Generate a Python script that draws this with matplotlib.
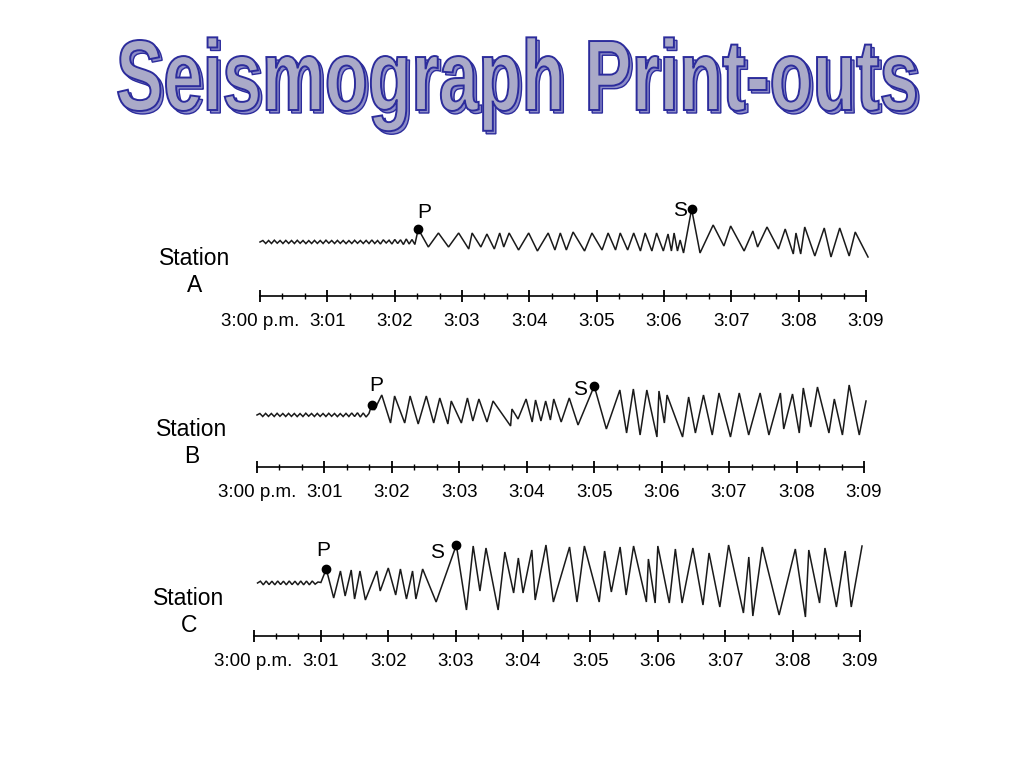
import numpy as np
import matplotlib.pyplot as plt
from matplotlib.textpath import TextPath
from matplotlib.patches import PathPatch
from matplotlib.font_manager import FontProperties, findfont
from matplotlib.transforms import Affine2D
from matplotlib.ticker import FixedLocator

plt.rcParams['font.family'] = ['Liberation Sans', 'DejaVu Sans']

# Daten: Zeit in Minuten nach 3:00, Ausschlag in Pixeln ueber der Ruhelinie
TITLE = "Seismograph Print-outs"
TICK_LABELS = ["3:00 p.m.", "3:01", "3:02", "3:03", "3:04",
               "3:05", "3:06", "3:07", "3:08", "3:09"]
STATIONS = ["A", "B", "C"]

# Station A
a_noise = [0, 1.5, -1.5, 1.5, -1.5, 1.8, -1.2, 1.5, -1.5, 1.6, -1.4, 1.5, -1.5, 1.7,
           -1.3, 1.5, -1.6, 1.4, -1.5, 1.6, -1.4, 1.5, -1.5, 1.8, -1.2, 1.5, -1.5, 1.6,
           -1.4, 1.5, -1.6, 1.4, -1.5, 1.7, -1.3, 1.5, -1.5, 1.6, -1.5, 2.0, -1.5, 1.5,
           -2.0, 2.2, -1.0, 1.8, -2.0, 2.5, -1.5, 2.2, -2.5, 3.0, -2.0, 2.5, -2.5]
a_noise_span = (0.0, 2.30)
a_time = [2.35, 2.50, 2.65, 2.80, 2.95, 3.10, 3.15, 3.28, 3.37, 3.48, 3.56, 3.62, 3.70,
          3.84, 3.99, 4.12, 4.28, 4.38, 4.46, 4.55, 4.65, 4.82, 4.93, 5.08, 5.17, 5.28,
          5.35, 5.46, 5.55, 5.65, 5.72, 5.82, 5.89, 5.99, 6.06, 6.11, 6.15, 6.20, 6.24,
          6.29, 6.41, 6.535, 6.73, 6.89, 6.99, 7.19, 7.32, 7.39, 7.53, 7.70, 7.80, 7.92,
          7.96, 8.03, 8.09, 8.24, 8.38, 8.48, 8.61, 8.75, 8.84, 9.03]
a_amp = [13, -5, 9, -5, 9, -7, 9, -5, 8, -7, 9, -5, 9,
         -8, 9, -9, 9, -8, 9, -8, 10, -9, 9, -8, 9, -8,
         9, -8, 9, -9, 9, -9, 9, -9, 8, -9, 9, -9, 2,
         -11, 33, -11, 17, -4, 16, -9, 11, -5, 15, -7, 13, -12,
         9, -12, 15, -14, 14, -15, 14, -14, 10, -15]
a_arrival_time = [2.35, 6.41]
a_arrival_amp = [13, 33]

# Station B
b_noise = [0, 1.5, -1.5, 1.6, -1.4, 1.5, -1.5, 1.7, -1.3, 1.5, -1.5, 1.6, -1.4, 1.5,
           -1.6, 1.4, -1.5, 1.8, -1.2, 1.5, -1.5, 1.6, -1.4, 1.5, -1.5, 1.7, -1.3, 1.5,
           -1.6, 1.4, -1.5, 1.6, -1.5, 2.0, -1.5, 2.2, -2.0, 2.0, -2.0, 1.5]
b_noise_span = (0.0, 1.66)
b_time = [1.70, 1.74, 1.85, 1.98, 2.04, 2.19, 2.27, 2.39, 2.51, 2.62, 2.71, 2.83, 2.88,
          3.03, 3.12, 3.20, 3.29, 3.41, 3.50, 3.76, 3.78, 3.87, 3.99, 4.08, 4.13, 4.21,
          4.28, 4.35, 4.40, 4.51, 4.63, 4.76, 5.00, 5.18, 5.38, 5.48, 5.58, 5.68, 5.78,
          5.93, 5.96, 6.04, 6.08, 6.31, 6.40, 6.50, 6.62, 6.75, 6.85, 7.02, 7.15, 7.29,
          7.46, 7.59, 7.76, 7.81, 7.94, 8.04, 8.10, 8.21, 8.31, 8.48, 8.56, 8.68, 8.78,
          8.93, 9.03]
b_amp = [10, 5, 20, -8, 19, -8, 19, -9, 19, -8, 17, -9, 14,
         -8, 17, -6, 16, -7, 14, -11, 6, -4, 16, -7, 15, -6,
         14, -5, 16, -7, 17, -10, 29, -14, 25, -18, 26, -20, 25,
         -22, 24, -8, 20, -22, 18, -18, 20, -20, 22, -22, 22, -20,
         22, -20, 22, -14, 21, -18, 27, -12, 28, -18, 16, -20, 30,
         -20, 14]
b_arrival_time = [1.70, 5.00]
b_arrival_amp = [10, 29]

# Station C
c_noise = [0, 1.8, -1.8, 2.0, -1.6, 1.8, -1.8, 2.0, -1.5, 1.8, -1.8, 2.0, -1.6, 1.8,
           -1.9, 2.0, -1.8, 1.9, -1.8, 2.0, -1.2, 1.0, 0.5]
c_noise_span = (0.06, 1.00)
c_time = [1.08, 1.19, 1.29, 1.36, 1.45, 1.50, 1.58, 1.66, 1.83, 1.88, 2.00, 2.11, 2.18,
          2.27, 2.36, 2.41, 2.51, 2.71, 3.01, 3.16, 3.26, 3.36, 3.45, 3.63, 3.73, 3.86,
          3.93, 4.00, 4.13, 4.18, 4.34, 4.45, 4.69, 4.80, 4.91, 5.13, 5.21, 5.31, 5.44,
          5.53, 5.64, 5.83, 5.86, 5.96, 6.00, 6.17, 6.26, 6.36, 6.52, 6.67, 6.76, 6.92,
          7.05, 7.27, 7.35, 7.41, 7.55, 7.80, 8.04, 8.19, 8.24, 8.40, 8.48, 8.65, 8.78,
          8.87, 9.03]
c_amp = [14, -15, 12, -13, 13, -16, 12, -17, 12, -8, 15, -12, 14,
         -16, 12, -16, 14, -19, 38, -27, 37, -8, 35, -27, 31, -10,
         25, -10, 33, -17, 38, -19, 36, -19, 37, -19, 32, -9, 36,
         -12, 37, -19, 24, -20, 37, -20, 34, -20, 35, -22, 30, -24,
         38, -30, 26, -33, 36, -32, 34, -34, 33, -20, 35, -24, 32,
         -24, 37]
c_arrival_time = [1.08, 3.01]
c_arrival_amp = [14, 38]

MINOR_TICKS = [m + k / 3 for m in range(9) for k in (1, 2)]

# Bildlage der Stationen in Pixeln: x(3:00), x(3:09), Ruhelinie, Zeitachse, Beschriftung
GEOM = {
    "A": dict(x0=260, x9=866, base=242, axis=296, label=(195, 272), p_off=(6, 17), s_off=(-12, -2)),
    "B": dict(x0=257, x9=864, base=415, axis=467, label=(192, 443), p_off=(5, 19), s_off=(-14, -4)),
    "C": dict(x0=253.5, x9=860, base=583, axis=636, label=(189, 612), p_off=(-3, 18), s_off=(-19, -7)),
}

W, H = 1024, 768
fig = plt.figure(figsize=(W / 100, H / 100), dpi=100, facecolor="white")

# Titel als WordArt-aehnlicher Schriftzug
bg = fig.add_axes([0, 0, 1, 1])
bg.set_xlim(0, W)
bg.set_ylim(H, 0)
bg.axis("off")

fp = None
for fam in ["Liberation Sans Narrow", "Liberation Sans", "DejaVu Sans"]:
    try:
        cand = FontProperties(family=fam, weight="bold")
        findfont(cand, fallback_to_default=False)
        fp = cand
        break
    except Exception:
        continue

tpath = TextPath((0, 0), TITLE, size=100, prop=fp)
ext = tpath.get_extents()
cap = TextPath((0, 0), "S", size=100, prop=fp).get_extents().ymax
sx = (916 - 118) / (ext.x1 - ext.x0)
sy = (110 - 40) / cap
tr = Affine2D().translate(-ext.x0, 0).scale(sx, -sy).translate(118, 110)
shadow = PathPatch(tr.transform_path(tpath), facecolor="#8c8cc8", edgecolor="#2c2c9c",
                   lw=1.0, transform=Affine2D().translate(3, 3) + bg.transData)
bg.add_patch(shadow)
main = PathPatch(tr.transform_path(tpath), facecolor="#aaaac8", edgecolor="#2c2c9c",
                 lw=1.4, transform=bg.transData)
bg.add_patch(main)


def draw_station(name, noise, noise_span, times, amps, arr_t, arr_a):
    g = GEOM[name]
    s = (g["x9"] - g["x0"]) / 9
    left, right = 140, 900
    top, bottom = g["base"] - 60, g["axis"] + 45
    ax = fig.add_axes([left / W, 1 - bottom / H, (right - left) / W, (bottom - top) / H])
    ax.set_xlim((left - g["x0"]) / s, (right - g["x0"]) / s)
    ax.set_ylim(g["base"] - bottom, g["base"] - top)
    ax.patch.set_alpha(0)

    nx = np.linspace(noise_span[0], noise_span[1], len(noise))
    x = np.concatenate([nx, times])
    y = np.concatenate([noise, amps])
    ax.plot(x, y, color="#1a1a1a", lw=1.1, solid_joinstyle="miter")
    ax.plot(arr_t, arr_a, "o", color="black", ms=6)
    for lab, t, a, off in zip(["P", "S"], arr_t, arr_a, [g["p_off"], g["s_off"]]):
        ax.annotate(lab, (t, a), xytext=off, textcoords="offset pixels",
                    ha="center", va="center", fontsize=15)

    # Zeitachse
    for sp in ["top", "left", "right"]:
        ax.spines[sp].set_visible(False)
    ax.spines["bottom"].set_position(("data", g["base"] - g["axis"]))
    ax.spines["bottom"].set_bounds(0, 9)
    ax.spines["bottom"].set_linewidth(1.2)
    ax.set_xticks(range(10))
    ax.set_xticklabels(TICK_LABELS, fontsize=13.5)
    ax.xaxis.set_minor_locator(FixedLocator(MINOR_TICKS))
    ax.tick_params(which="major", direction="inout", length=9, width=1.3, pad=7.5)
    ax.tick_params(which="minor", direction="inout", length=4.5, width=1.0)
    ax.set_yticks([])

    lx, ly = g["label"]
    fig.text(lx / W, 1 - ly / H, "Station\n" + name, ha="center", va="center",
             multialignment="center", fontsize=16.5, linespacing=1.2)


draw_station("A", a_noise, a_noise_span, a_time, a_amp, a_arrival_time, a_arrival_amp)
draw_station("B", b_noise, b_noise_span, b_time, b_amp, b_arrival_time, b_arrival_amp)
draw_station("C", c_noise, c_noise_span, c_time, c_amp, c_arrival_time, c_arrival_amp)

fig.savefig("out.png", dpi=100, facecolor="white")
